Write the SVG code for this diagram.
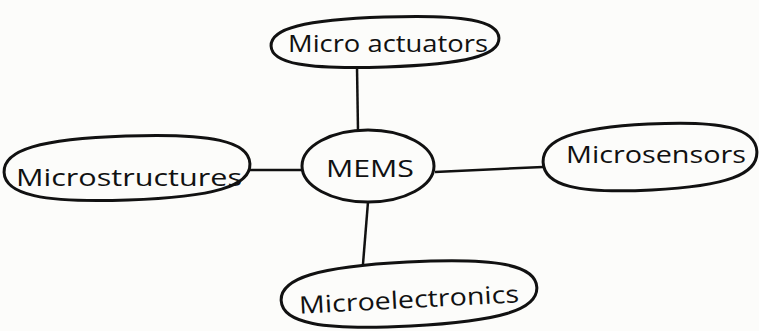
<svg xmlns="http://www.w3.org/2000/svg" width="759" height="331" viewBox="0 0 759 331">
<style>
.n{fill:none;stroke:#111;stroke-width:3}
.c{stroke:#111;stroke-width:2.5;fill:none}
text{font-family:"Open Sans","Liberation Sans",sans-serif;fill:#111;font-size:24px}
</style>
<rect width="759" height="331" fill="#fcfcfa"/>
<g id="connectors">
<line class="c" x1="357" y1="67" x2="358" y2="131"/>
<line class="c" x1="250" y1="170" x2="302" y2="170"/>
<line class="c" x1="435" y1="172" x2="543" y2="167"/>
<line class="c" x1="368" y1="202" x2="363" y2="264"/>
</g>
<g id="mems">
<ellipse class="n" cx="368" cy="166" rx="66" ry="36"/>
<text x="326" y="177" textLength="88" lengthAdjust="spacingAndGlyphs" font-size="27">MEMS</text>
</g>
<g id="microactuators">
<path class="n" transform="rotate(-2 385 42)" d="M271,42 C271,24.5 305,17 385,17 C465,17 499,24.5 499,42 C499,59.5 465,67 385,67 C305,67 271,59.5 271,42Z"/>
<text x="288" y="52" textLength="200" lengthAdjust="spacingAndGlyphs">Micro actuators</text>
</g>
<g id="microstructures">
<path class="n" transform="rotate(-2 127 168)" d="M4,168 C4,145.6 40.9,136 127,136 C213.1,136 250,145.6 250,168 C250,190.4 213.1,200 127,200 C40.9,200 4,190.4 4,168Z"/>
<text x="16" y="186" textLength="226" lengthAdjust="spacingAndGlyphs">Microstructures</text>
</g>
<g id="microsensors">
<path class="n" transform="rotate(-3 650 157)" d="M543,157 C543,133.9 575.1,124 650,124 C724.9,124 757,133.9 757,157 C757,180.1 724.9,190 650,190 C575.1,190 543,180.1 543,157Z"/>
<text x="566" y="163" textLength="180" lengthAdjust="spacingAndGlyphs">Microsensors</text>
</g>
<g id="microelectronics">
<path class="n" transform="rotate(-3 409 294)" d="M281,294 C281,271.6 319.4,262 409,262 C498.6,262 537,271.6 537,294 C537,316.4 498.6,326 409,326 C319.4,326 281,316.4 281,294Z"/>
<text x="299" y="308" textLength="220" lengthAdjust="spacingAndGlyphs" transform="rotate(-3 409 300)">Microelectronics</text>
</g>
</svg>
